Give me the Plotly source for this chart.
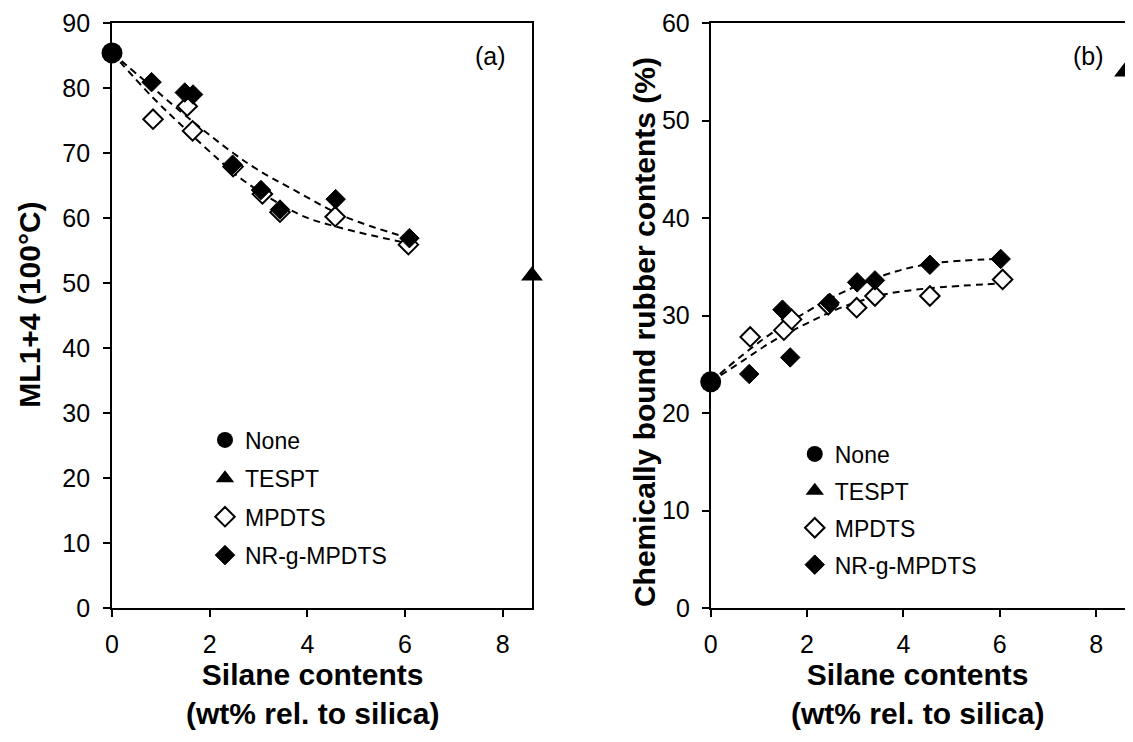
import plotly.graph_objects as go

# ---------------- data ----------------
# Panel (a): Mooney viscosity ML1+4 (100°C)
none_x = [0.0]
none_a = [85.4]
tespt_x = [8.6]
tespt_a = [51.1]
mpdts_x = [0.84, 1.54, 1.65, 2.48, 3.08, 3.44, 4.57, 6.07]
mpdts_a = [75.2, 77.2, 73.4, 67.9, 63.7, 60.9, 60.2, 55.9]
nr_x = [0.81, 1.49, 1.66, 2.47, 3.05, 3.44, 4.58, 6.09]
nr_a = [80.9, 79.3, 79.0, 68.2, 64.3, 61.3, 62.9, 56.9]

# dashed trend lines of panel (a)
trend_nr_a_x = [0.0, 0.64, 1.66, 2.48, 2.99, 3.68, 4.77, 6.09]
trend_nr_a_y = [85.4, 81.3, 74.8, 70.0, 67.4, 64.5, 60.2, 56.9]
trend_mp_a_x = [0.0, 0.84, 1.53, 2.21, 2.65, 3.82, 4.57, 6.07]
trend_mp_a_y = [85.4, 78.5, 73.5, 68.8, 66.0, 60.6, 58.7, 56.1]

# Panel (b): chemically bound rubber contents (%)
none_b = [23.2]
tespt_b = [55.0]
mpdts_bx = [0.82, 1.52, 1.68, 2.44, 3.03, 3.41, 4.55, 6.06]
mpdts_b = [27.8, 28.5, 29.6, 31.1, 30.8, 32.0, 32.0, 33.7]
nr_bx = [0.80, 1.49, 1.65, 2.47, 3.04, 3.41, 4.55, 6.02]
nr_b = [24.0, 30.6, 25.7, 31.3, 33.4, 33.6, 35.2, 35.8]

# dashed trend lines of panel (b)
trend_nr_b_x = [0.0, 0.65, 1.3, 2.0, 2.54, 3.58, 4.55, 6.02]
trend_nr_b_y = [23.2, 25.9, 28.3, 30.4, 31.9, 34.1, 35.3, 35.8]
trend_mp_b_x = [0.0, 0.65, 1.3, 2.0, 2.75, 3.65, 4.55, 6.06]
trend_mp_b_y = [23.2, 25.3, 27.4, 29.2, 30.9, 32.2, 32.8, 33.3]

x_ticks = [0, 2, 4, 6, 8]

FONT = "Liberation Sans, Arial, sans-serif"
BLACK = "#000000"

fig = go.Figure()

dash_line = dict(color=BLACK, width=2, dash="7px,5px")


def add_panel(xa, ya, legend, grp, trends, none_y, tespt_y, mx, my, nx, ny):
    for tx, ty in trends:
        fig.add_trace(go.Scatter(x=tx, y=ty, mode="lines", line=dict(shape="spline", smoothing=1.0, **dash_line),
                                 xaxis=xa, yaxis=ya, showlegend=False, hoverinfo="skip"))
    fig.add_trace(go.Scatter(x=none_x, y=none_y, mode="markers", name="None",
                             marker=dict(symbol="circle", size=21, color=BLACK),
                             xaxis=xa, yaxis=ya, legend=legend, legendgroup=grp + "none", cliponaxis=False))
    fig.add_trace(go.Scatter(x=tespt_x, y=tespt_y, mode="markers", name="TESPT",
                             marker=dict(symbol="triangle-up", size=19, color=BLACK),
                             xaxis=xa, yaxis=ya, legend=legend, legendgroup=grp + "tespt", cliponaxis=False))
    fig.add_trace(go.Scatter(x=mx, y=my, mode="markers", name="MPDTS",
                             marker=dict(symbol="diamond", size=15, color="white",
                                         line=dict(color=BLACK, width=2)),
                             xaxis=xa, yaxis=ya, legend=legend, legendgroup=grp + "mpdts", cliponaxis=False))
    fig.add_trace(go.Scatter(x=nx, y=ny, mode="markers", name="NR-g-MPDTS",
                             marker=dict(symbol="diamond", size=15, color=BLACK,
                                         line=dict(color=BLACK, width=1)),
                             xaxis=xa, yaxis=ya, legend=legend, legendgroup=grp + "nr", cliponaxis=False))


add_panel("x", "y", "legend", "a",
          [(trend_nr_a_x, trend_nr_a_y), (trend_mp_a_x, trend_mp_a_y)],
          none_a, tespt_a, mpdts_x, mpdts_a, nr_x, nr_a)
add_panel("x2", "y2", "legend2", "b",
          [(trend_nr_b_x, trend_nr_b_y), (trend_mp_b_x, trend_mp_b_y)],
          none_b, tespt_b, mpdts_bx, mpdts_b, nr_bx, nr_b)

axis_common = dict(showline=True, linecolor=BLACK, linewidth=1.8, mirror=True,
                   ticks="outside", ticklen=7, tickwidth=1.8, tickcolor=BLACK,
                   showgrid=False, zeroline=False, automargin=False,
                   tickfont=dict(family=FONT, size=25, color=BLACK))

TITLE_FONT = dict(family=FONT, size=30, color=BLACK)
LEG_FONT = dict(family=FONT, size=23, color=BLACK)

fig.update_layout(
    width=1133, height=742,
    paper_bgcolor="white", plot_bgcolor="white",
    # the page adds an 8px body margin; margins compensate so the plot lands where the reference's does
    margin=dict(l=104, r=16, t=15, b=142),
    font=dict(family=FONT, color=BLACK),
    xaxis=dict(domain=[0.0, 0.4146], range=[0, 8.6], tickvals=x_ticks, anchor="y",
               ticklabelstandoff=6, **axis_common),
    yaxis=dict(domain=[0, 1], range=[0, 90], dtick=10, anchor="x",
               ticklabelstandoff=8, **axis_common),
    xaxis2=dict(domain=[0.5910, 1.0], range=[0, 8.6], tickvals=x_ticks, anchor="y2",
                ticklabelstandoff=6, **axis_common),
    yaxis2=dict(domain=[0, 1], range=[0, 60], dtick=10, anchor="x2",
                ticklabelstandoff=7, **axis_common),
    legend=dict(x=0.0918, y=0.324, xanchor="left", yanchor="top", bgcolor="rgba(0,0,0,0)",
                font=LEG_FONT, traceorder="grouped", tracegroupgap=5.5, itemsizing="trace"),
    legend2=dict(x=0.674, y=0.300, xanchor="left", yanchor="top", bgcolor="rgba(0,0,0,0)",
                 font=LEG_FONT, traceorder="grouped", tracegroupgap=4, itemsizing="trace"),
    annotations=[
        dict(text="(a)", xref="x domain", yref="y domain", x=0.943, y=0.943,
             xanchor="right", yanchor="middle", showarrow=False,
             font=dict(family=FONT, size=25, color=BLACK)),
        dict(text="(b)", xref="x2 domain", yref="y2 domain", x=0.954, y=0.943,
             xanchor="right", yanchor="middle", showarrow=False,
             font=dict(family=FONT, size=25, color=BLACK)),
        # axis titles
        dict(text="<b>Silane contents<br>(wt% rel. to silica)</b>", xref="x domain", yref="y domain",
             x=0.478, y=-0.1465, xanchor="center", yanchor="middle", showarrow=False, font=TITLE_FONT),
        dict(text="<b>Silane contents<br>(wt% rel. to silica)</b>", xref="x2 domain", yref="y2 domain",
             x=0.498, y=-0.1465, xanchor="center", yanchor="middle", showarrow=False, font=TITLE_FONT),
        dict(text="<b>ML1+4 (100°C)</b>", xref="x domain", yref="y domain",
             x=-0.196, y=0.518, xanchor="center", yanchor="middle", textangle=-90,
             showarrow=False, font=TITLE_FONT),
        dict(text="<b>Chemically bound rubber contents (%)</b>", xref="x2 domain", yref="y2 domain",
             x=-0.158, y=0.472, xanchor="center", yanchor="middle", textangle=-90,
             showarrow=False, font=TITLE_FONT),
    ],
)

fig.write_html("out.html")
